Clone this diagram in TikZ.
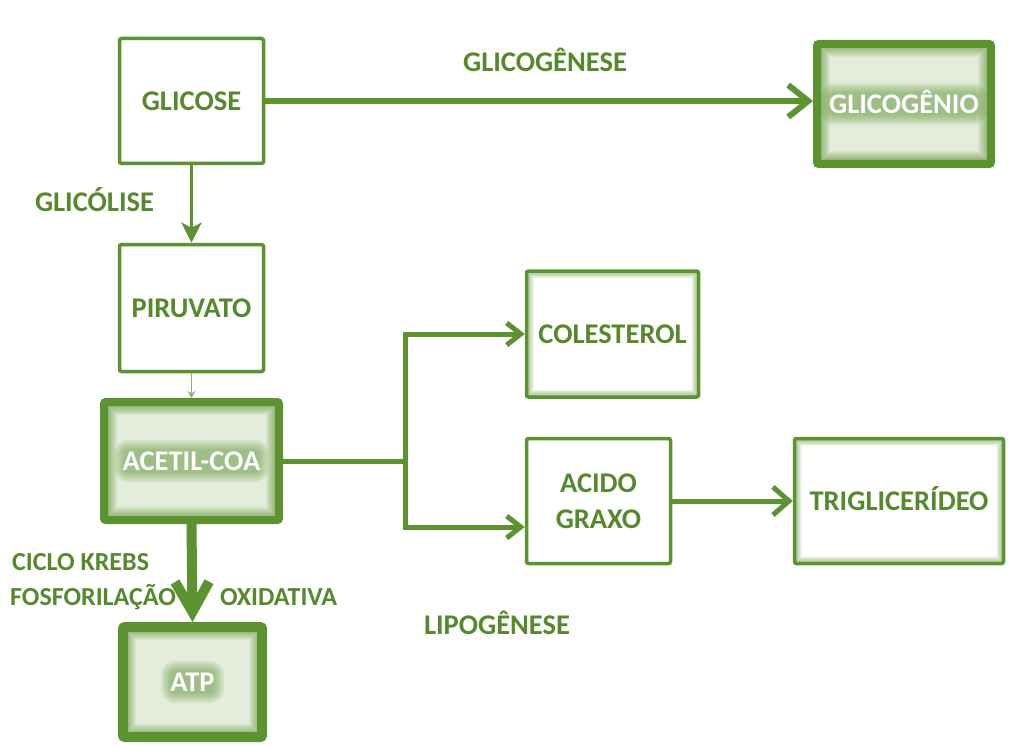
\documentclass[tikz,border=0pt]{standalone}
\usepackage{fontspec}
\setmainfont{Carlito}
\usetikzlibrary{arrows.meta,calc}
\definecolor{gr}{RGB}{92,146,48}
\definecolor{txt}{RGB}{86,136,44}
\definecolor{pale}{RGB}{228,237,219}

\tikzset{
  lbl/.style={text=txt, font=\bfseries\fontsize{28.5}{36}\selectfont, inner sep=0pt,
              text height=18.5pt, text depth=0pt},
  small/.style={font=\bfseries\fontsize{26}{32}\selectfont, text height=17pt},
  % soft green band along the inside of a box
  edgeglow/.style 2 args={path picture={
      \foreach \i in {1,...,#1}{
        \draw[gr, draw opacity=#2, line width={2*\i pt}]
          (path picture bounding box.south west) rectangle (path picture bounding box.north east);}}},
  plainbox/.style={draw=gr, line width=3.5pt, fill=white, rounded corners=2pt, lbl,
                   edgeglow={2}{0.08}},
  softbox/.style={draw=gr, line width=3.5pt, fill=white, rounded corners=2pt, lbl,
                  edgeglow={7}{0.1}},
  % heavy box: pale fill, dark inner band, white lettering on a green haze
  % (#1 = half the width of the lettering)
  strongbox/.style={draw=gr, line width=8pt, fill=pale, rounded corners=2pt, lbl, text=white,
      path picture={
        \foreach \i in {1,...,13}{
          \draw[gr, draw opacity=0.075, line width={2*\i pt}]
            (path picture bounding box.south west) rectangle (path picture bounding box.north east);}
        \foreach \i in {0,...,6}{
          \fill[gr, fill opacity=0.09, rounded corners={5pt+\i*1.5pt}]
            ($(path picture bounding box.center)+({-#1-\i*1.6},{-11.5-\i*1.6})$) rectangle
            ($(path picture bounding box.center)+({#1+\i*1.6},{11.5+\i*1.6})$);}
      }},
  conn/.style={draw=gr, line cap=butt},
}

\begin{document}
\begin{tikzpicture}[x=1pt,y=-1pt]
  \useasboundingbox (0,0) rectangle (1009,746);

  % boxes
  \node[plainbox, minimum width=144, minimum height=125] (glicose) at (191.5,101) {GLICOSE};
  \node[strongbox=74, minimum width=174, minimum height=120] (glicogenio) at (904,104) {GLICOGÊNIO};
  \node[plainbox, minimum width=144, minimum height=127] (piruvato) at (191.5,308) {PIRUVATO};
  \node[strongbox=68, minimum width=175, minimum height=118] (acetil) at (191.5,461) {ACETIL-COA};
  \node[strongbox=22, line width=10pt, minimum width=139, minimum height=110] (atp) at (192.5,682) {ATP};
  \node[softbox, minimum width=172, minimum height=126] (colesterol) at (612.5,334) {COLESTEROL};
  \node[plainbox, minimum width=144, minimum height=125, align=center, text height=, text depth=] (acido) at (598.5,501) {ACIDO\\GRAXO};
  \node[softbox, minimum width=209, minimum height=125] (trig) at (899,501) {TRIGLICERÍDEO};

  % labels
  \node[lbl] (glicogenese) at (545,62) {GLICOGÊNESE};
  \node[lbl] (glicolise) at (94.5,202) {GLICÓLISE};
  \node[lbl, small, anchor=west] (ciclo) at (12,562) {CICLO KREBS};
  \node[lbl, small, anchor=west] (fosf) at (10,597) {FOSFORILAÇÃO};
  \node[lbl, small, anchor=west] (oxid) at (220,597) {OXIDATIVA};
  \node[lbl] (lipo) at (497,625) {LIPOGÊNESE};

  % connectors
  \draw[conn, line width=6pt, -{Straight Barb[length=20pt,width=32pt]}]
    (glicose.east) -- (glicose.east -| glicogenio.west);
  \draw[conn, line width=3.5pt, -{Stealth[length=20pt,width=20pt,inset=5pt]}]
    (glicose.south) -- (piruvato.north);
  \draw[draw=gr!70, line width=1.5pt, -{Stealth[length=7pt,width=8pt]}]
    (piruvato.south) -- (acetil.north);
  \draw[conn, line width=10pt, -{Straight Barb[length=30pt,width=34pt]}]
    (acetil.south) -- (atp.north);

  \coordinate (br) at (405,461);
  \coordinate (bl) at (405,527);
  \draw[conn, line width=5pt] (acetil.east) -- (br);
  \draw[conn, line width=5pt, -{Straight Barb[length=14pt,width=22pt]}]
    (bl) -- (br) |- (colesterol.west);
  \draw[conn, line width=5pt, -{Straight Barb[length=14pt,width=22pt]}]
    (br) -- (bl) -- (bl -| acido.west);
  \draw[conn, line width=5pt, -{Straight Barb[length=16pt,width=28pt]}]
    (acido.east) -- (trig.west);
\end{tikzpicture}
\end{document}
